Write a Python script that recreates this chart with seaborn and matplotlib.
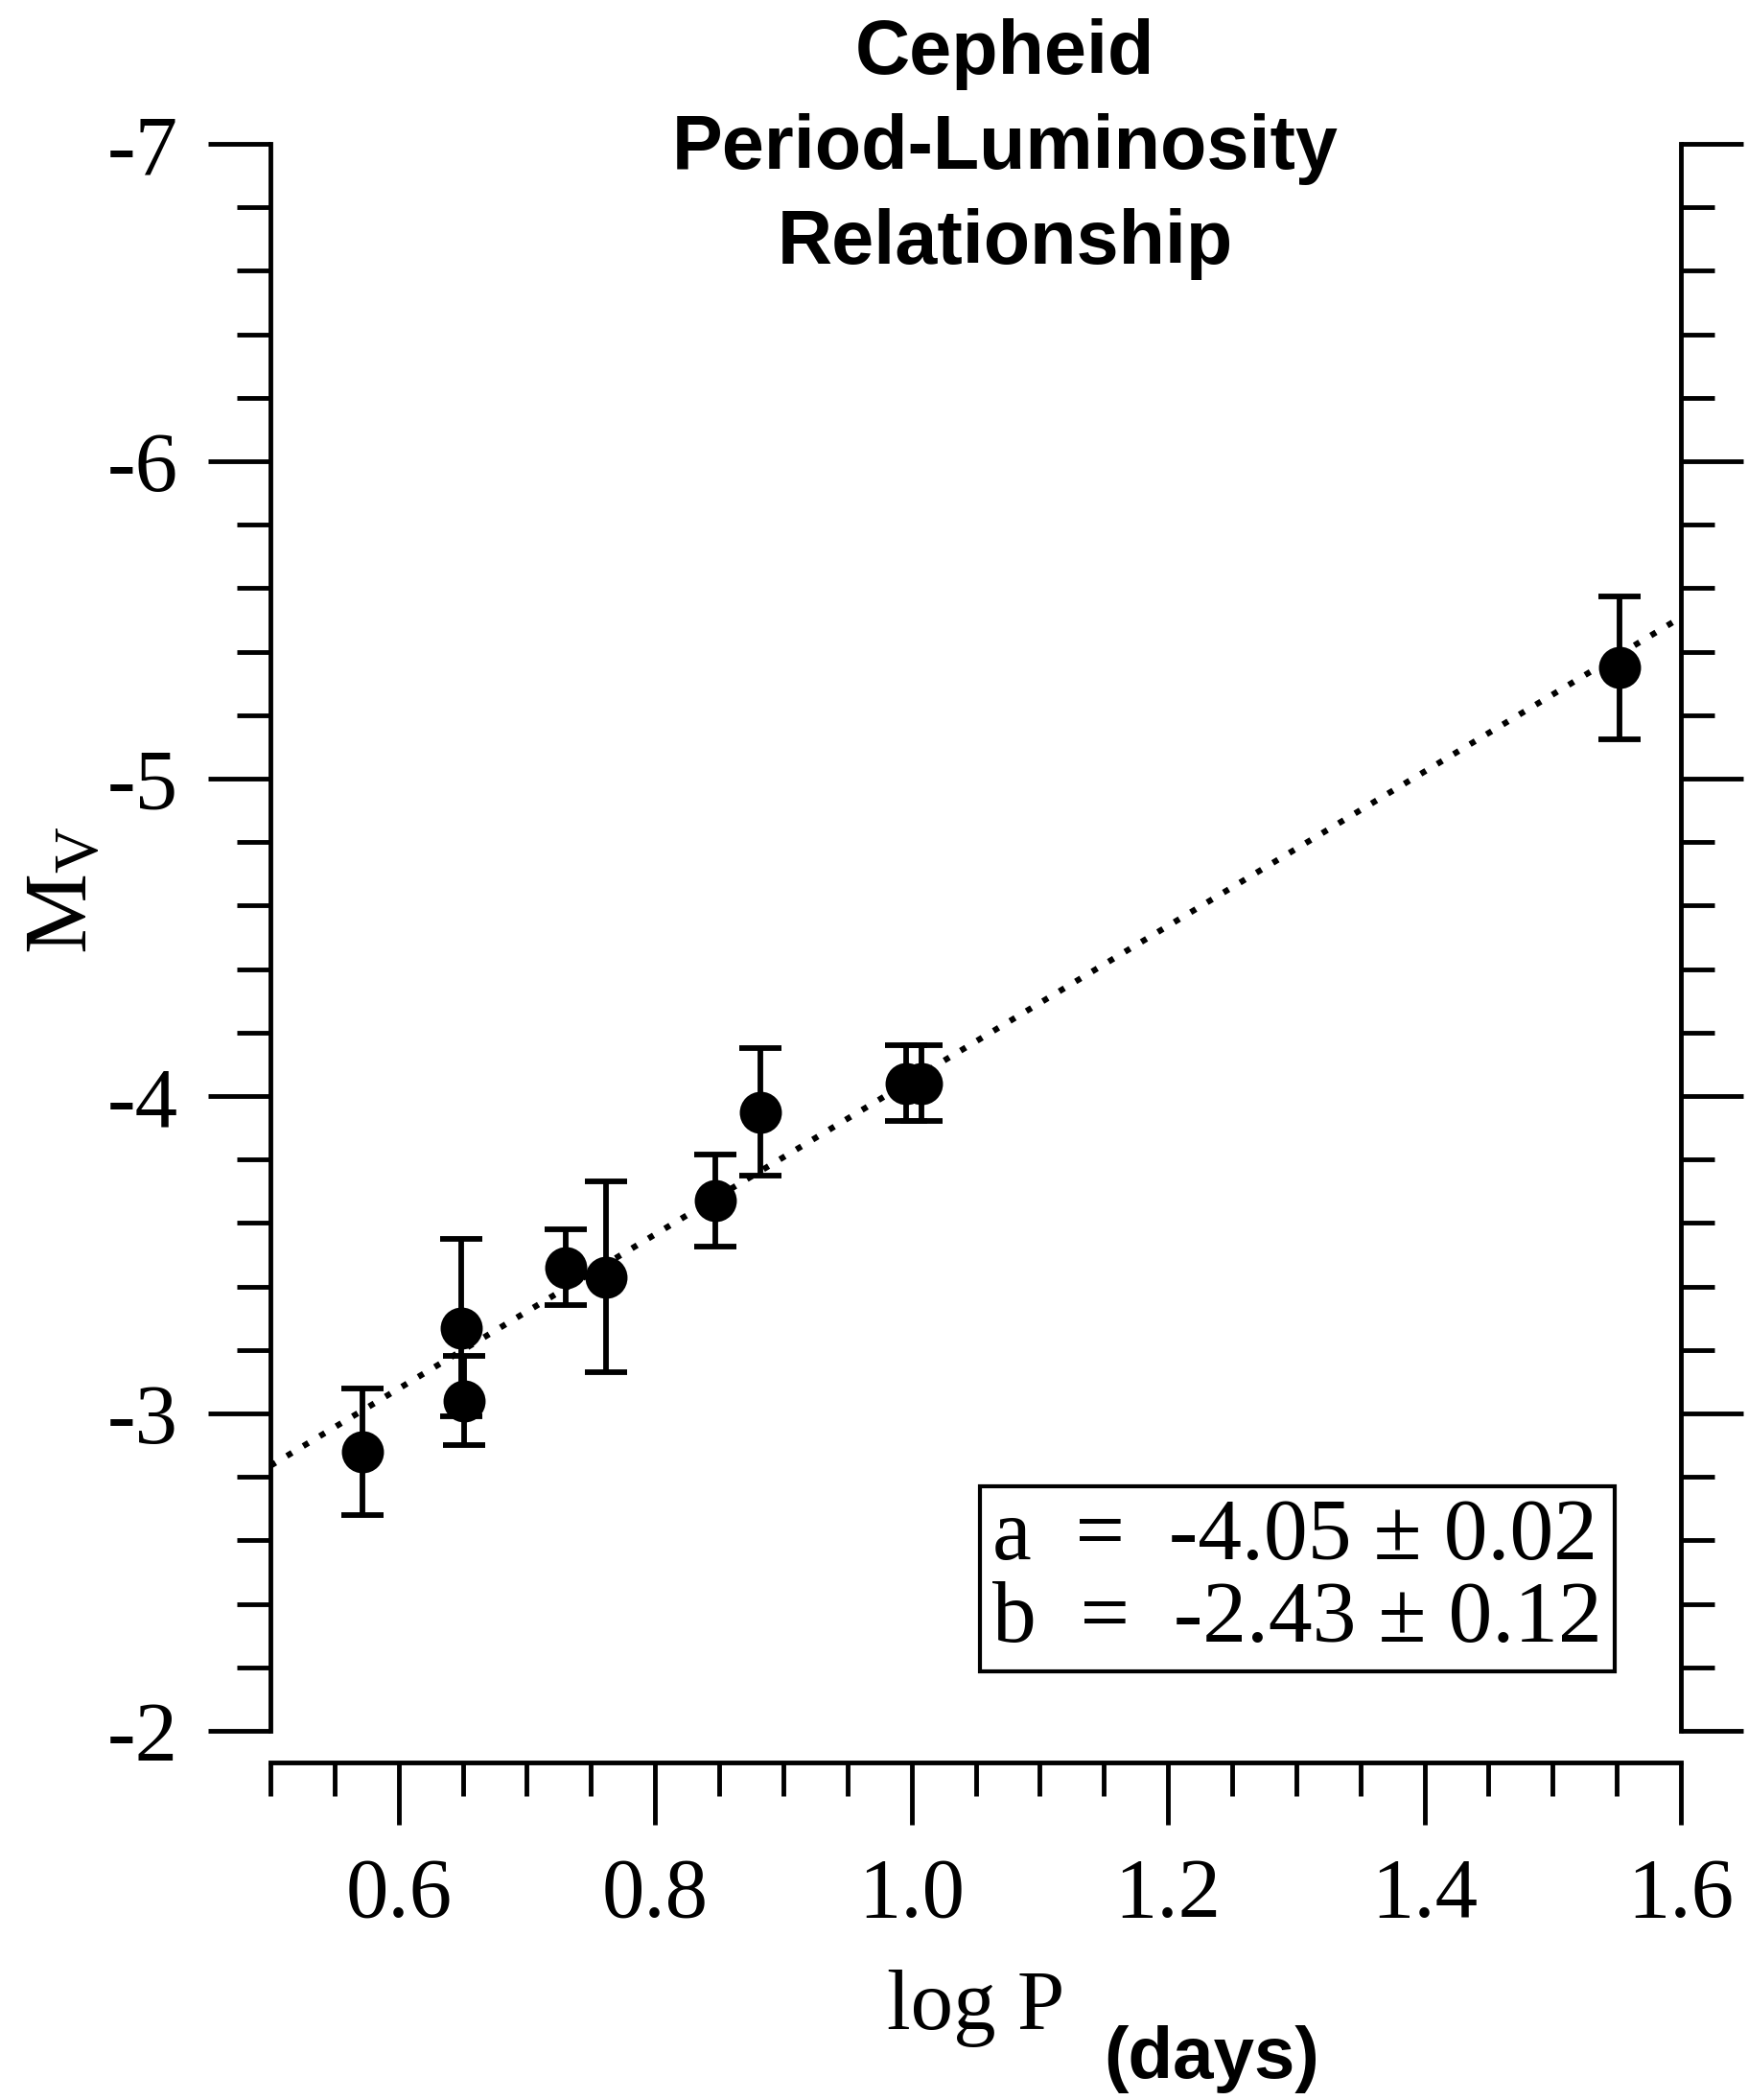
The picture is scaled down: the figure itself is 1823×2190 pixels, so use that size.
import matplotlib
matplotlib.use("Agg")
import matplotlib.pyplot as plt
from matplotlib.ticker import MultipleLocator, FixedLocator
import numpy as np
import pandas as pd
import seaborn as sns

# Cepheid data
log_p = [0.572, 0.649, 0.651, 0.730, 0.762, 0.847, 0.882, 0.996, 1.008, 1.552]
mv = [-2.88, -3.27, -3.04, -3.46, -3.43, -3.67, -3.95, -4.04, -4.04, -5.35]
mv_err = [0.20, 0.28, 0.14, 0.12, 0.30, 0.145, 0.20, 0.12, 0.12, 0.225]

# fit Mv = a + b (log P - 1)
fit_a, fit_a_err = -4.05, 0.02
fit_b, fit_b_err = -2.43, 0.12

x_ticks = [0.6, 0.8, 1.0, 1.2, 1.4, 1.6]
x_tick_labels = ["0.6", "0.8", "1.0", "1.2", "1.4", "1.6"]
y_ticks = [-7, -6, -5, -4, -3, -2]

df = pd.DataFrame({"logP": log_p, "Mv": mv, "err": mv_err})

sns.set_style("ticks")
plt.rcParams["font.family"] = ["Liberation Serif", "DejaVu Serif"]
plt.rcParams["mathtext.fontset"] = "custom"
plt.rcParams["mathtext.rm"] = "Liberation Serif"
plt.rcParams["mathtext.it"] = "Liberation Serif"
plt.rcParams["axes.unicode_minus"] = False
for key in ["text.color", "axes.labelcolor", "xtick.color", "ytick.color",
            "axes.edgecolor"]:
    plt.rcParams[key] = "black"

fig = plt.figure(figsize=(18.23, 21.9), dpi=100)
ax = fig.add_axes([0.1547, 0.1758, 0.8069, 0.7557])

ax.errorbar(df["logP"], df["Mv"], yerr=df["err"], fmt="none", ecolor="black",
            elinewidth=4.2, capsize=16, capthick=4.2, zorder=2)
sns.scatterplot(data=df, x="logP", y="Mv", color="black", s=1000,
                edgecolor="black", linewidth=0, ax=ax, zorder=3, legend=False)

x_fit = np.array([0.5, 1.6])
ax.plot(x_fit, fit_a + fit_b * (x_fit - 1.0), color="black", lw=4.5,
        linestyle=(0, (1, 2.2)), zorder=1)

ax.set_xlim(0.5, 1.6)
ax.set_ylim(-2, -7)

ax.spines["top"].set_visible(False)
ax.spines["bottom"].set_position(("outward", 24))
for side in ["left", "right", "bottom"]:
    ax.spines[side].set_linewidth(3.5)

ax.xaxis.set_major_locator(FixedLocator(x_ticks))
ax.set_xticklabels(x_tick_labels)
ax.xaxis.set_minor_locator(MultipleLocator(0.05))
ax.yaxis.set_major_locator(FixedLocator(y_ticks))
ax.yaxis.set_minor_locator(MultipleLocator(0.2))

ax.tick_params(axis="both", which="both", direction="out", width=3.5)
ax.tick_params(axis="both", which="major", length=47, labelsize=64, pad=24)
ax.tick_params(axis="y", which="major", pad=22)
ax.tick_params(axis="both", which="minor", length=25)
ax.tick_params(axis="y", which="both", left=True, right=True, labelright=False)

ax.set_xlabel("log P", fontsize=64, labelpad=26)
ax.set_ylabel(r"$\mathregular{M_V}$", fontsize=68)
ax.yaxis.set_label_coords(-0.117, 0.53)

box_txt = (f"a  =  {fit_a:.2f} \u00b1 {fit_a_err:.2f}\n"
           f"b  =  {fit_b:.2f} \u00b1 {fit_b_err:.2f}")
ax.text(0.512, 0.045, box_txt, transform=ax.transAxes, fontsize=66,
        ha="left", va="bottom", linespacing=1.05,
        bbox=dict(boxstyle="square,pad=0.14", fc="white", ec="black", lw=3))

fig.text(0.575, 0.929, "Cepheid\nPeriod-Luminosity\nRelationship",
         ha="center", va="center", fontsize=57, fontweight="bold",
         family=["Liberation Sans", "DejaVu Sans"], linespacing=1.42)
fig.text(0.693, 0.003, "(days)", ha="center", va="bottom", fontsize=55,
         fontweight="bold", family=["Liberation Sans", "DejaVu Sans"])

fig.savefig("out.png", dpi=100, facecolor="white")
